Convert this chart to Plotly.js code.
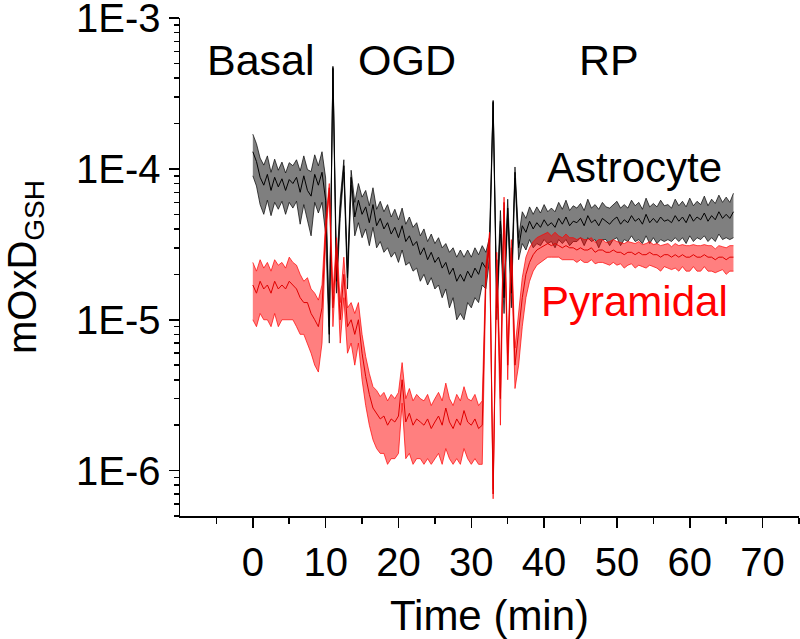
<!DOCTYPE html>
<html>
<head>
<meta charset="utf-8">
<script src="https://cdn.plot.ly/plotly-3.0.1.min.js"></script>
<style>html,body{margin:0;padding:0;background:#fff;}#chart{width:800px;height:639px;}</style>
</head>
<body>
<div id="chart"></div>
<script>
// Time (min)
const time = [
0,0.5,1,1.5,2,2.5,3,3.5,4,4.5,
5,5.5,6,6.5,7,7.5,8,8.5,9,9.5,
10,10.5,11,11.5,12,12.5,13,13.5,14,14.5,
15,15.5,16,16.5,17,17.5,18,18.5,19,19.5,
20,20.5,21,21.5,22,22.5,23,23.5,24,24.5,
25,25.5,26,26.5,27,27.5,28,28.5,29,29.5,
30,30.5,31,31.5,32,32.5,33,33.5,34,34.5,
35,35.5,36,36.5,37,37.5,38,38.5,39,39.5,
40,40.5,41,41.5,42,42.5,43,43.5,44,44.5,
45,45.5,46,46.5,47,47.5,48,48.5,49,49.5,
50,50.5,51,51.5,52,52.5,53,53.5,54,54.5,
55,55.5,56,56.5,57,57.5,58,58.5,59,59.5,
60,60.5,61,61.5,62,62.5,63,63.5,64,64.5,
65,65.5,66];

// Astrocyte mOxD_GSH, mean and SEM (units of 1e-6)
const astroMean = [
130,112,88,78,92,72,88,76,86,72,
85,80,88,70,90,72,66,92,78,95,
62,8,470,18,55,105,19,88,48,62,
50,56,44,58,42,47,40,44,37,41,
35,42,33,36,31,33,27,30,25,28,
24,26,22,24,20,22,18,20,18,21,
19,22,20,24,22,30,280,12,45,14,
55,15,95,30,42,38,45,40,44,41,
46,42,44,41,47,43,48,42,45,44,
47,42,49,44,46,42,47,45,43,46,
48,43,46,44,49,45,47,43,50,44,
47,44,48,45,46,44,49,45,48,44,
50,45,48,46,51,45,49,46,52,47,
50,47,52];
const astroSem = [
40,35,30,28,30,23,28,22,25,22,
25,25,27,27,32,27,30,32,27,35,
25,1,10,3,8,10,3,10,12,18,
15,16,13,17,12,14,12,14,11,13,
11,13,10,12,10,11,9,10,8,9,
8,9,8,8,8,8,8,9,8,8,
7,8,7,7,6,5,5,2,8,3,
8,3,8,5,10,9,11,10,12,10,
12,10,11,11,13,11,14,11,12,11,
12,11,14,11,12,12,13,11,12,12,
13,12,12,11,13,12,13,11,14,12,
12,12,14,12,12,11,14,12,13,12,
14,12,13,12,15,12,14,13,15,13,
15,13,17];

// Pyramidal mOxD_GSH, mean and SEM (units of 1e-6)
const pyrMean = [
17,15,18,16,17,15,18,16,17,16,
18,17,16,14,13,13,11,10,9,12,
40,75,12,30,10,20,9,10,8,10,
6,4.2,3.2,2.6,2.4,2.2,2.3,2.0,2.2,2.1,
2.3,4.0,2.1,2.4,2.0,2.2,2.1,2.0,2.2,1.9,
2.1,2.3,2.0,2.6,2.1,1.9,2.2,2.0,2.5,2.1,
2.0,2.2,1.9,2.0,20,35,0.7,25,3.0,60,
5,30,5,8,14,20,24,27,29,30,
31,32,31,32,31,30,31,30,30,29,
30,29,29,30,28,29,29,28,28,29,
28,28,27,28,28,27,28,27,27,28,
27,27,26,27,27,26,27,26,27,26,
26,27,26,26,27,26,26,25,26,26,
25,26,26];
const pyrSem = [
7,6,7,6,7,6,7,7,7,6,
8,7,7,6,5,6,5,5,4.5,5,
5,5,3,5,3,6,3,3,3,3,
2,1.5,1.2,1.0,1.0,0.9,1.0,0.9,1.0,0.9,
1.0,1.2,0.9,1.1,0.9,1.0,0.9,0.9,1.0,0.8,
0.9,1.0,0.9,1.2,0.9,0.8,1.0,0.9,1.1,0.9,
0.9,1.0,0.8,0.9,3,3,0.05,3,1,5,
1,4,1.5,3,5,6,6,6,6,6,
6,6,5,6,5,5,6,5,5,5,
5,5,5,5,4.5,5,5,4.5,5,5,
5,4.5,5,5,4.5,5,5,4.5,5,5,
4.5,5,5,4.5,5,4.5,5,5,4.5,5,
5,4.5,5,5,4.5,5,5,4.5,5,4.5,
5,5,5];

const UNIT = 1e-6;
const yTickVals = [1e-6, 1e-5, 1e-4, 1e-3];
const yTickText = ['1E-6', '1E-5', '1E-4', '1E-3'];
const xTickVals = [0, 10, 20, 30, 40, 50, 60, 70];
const xMinorVals = [-5, 5, 15, 25, 35, 45, 55, 65, 75];
const yMinorVals = [];
for (let d = -7; d <= -4; d++) for (let k = 2; k <= 9; k++) yMinorVals.push(k * Math.pow(10, d));

function bandTraces(mean, sem, lineCol, fillCol, meanCol) {
  const m = mean.map(v => v * UNIT);
  const lo = mean.map((v, i) => (v - sem[i]) * UNIT);
  const hi = mean.map((v, i) => (v + sem[i]) * UNIT);
  return [
    {x: time, y: lo, type: 'scatter', mode: 'lines', line: {color: lineCol, width: 0.7}, hoverinfo: 'skip'},
    {x: time, y: hi, type: 'scatter', mode: 'lines', line: {color: lineCol, width: 0.7}, fill: 'tonexty', fillcolor: fillCol, hoverinfo: 'skip'},
    {x: time, y: m, type: 'scatter', mode: 'lines', line: {color: meanCol, width: 1}}
  ];
}

const data = [].concat(
  bandTraces(astroMean, astroSem, '#000000', 'rgba(0,0,0,0.5)', '#000000'),
  bandTraces(pyrMean, pyrSem, '#ff0000', 'rgba(255,0,0,0.5)', '#e00000')
);

const F = 'Liberation Sans, Arial, sans-serif';
function ann(text, x, y, size, color) {
  return {text: text, xref: 'paper', yref: 'paper', x: x, y: y, xanchor: 'center', yanchor: 'middle',
          showarrow: false, font: {family: F, size: size, color: color}};
}
const layout = {
  width: 800, height: 639,
  margin: {l: 180, r: 1, t: 18, b: 123},
  paper_bgcolor: '#fff', plot_bgcolor: '#fff',
  showlegend: false,
  font: {family: F, color: '#000'},
  xaxis: {
    range: [-10, 75], tickmode: 'array', tickvals: xTickVals,
    showline: true, linecolor: '#000', linewidth: 1.5,
    ticks: 'outside', ticklen: 10, tickwidth: 1.5, tickcolor: '#000',
    minor: {tickmode: 'array', tickvals: xMinorVals, ticks: 'outside', ticklen: 6, tickwidth: 1.5, tickcolor: '#000', showgrid: false},
    showgrid: false, zeroline: false,
    tickfont: {family: F, size: 40, color: '#000'},
    title: {text: 'Time (min)', font: {family: F, size: 42, color: '#000'}, standoff: 30}
  },
  yaxis: {
    type: 'log', range: [Math.log10(5e-7), -2.9995],
    tickmode: 'array', tickvals: yTickVals, ticktext: yTickText,
    showline: true, linecolor: '#000', linewidth: 1.5,
    ticks: 'outside', ticklen: 10, tickwidth: 1.5, tickcolor: '#000',
    minor: {tickmode: 'array', tickvals: yMinorVals, ticks: 'outside', ticklen: 5, tickwidth: 1.5, tickcolor: '#000', showgrid: false},
    showgrid: false, zeroline: false,
    ticklabeloverflow: 'allow',
    tickfont: {family: F, size: 40, color: '#000'},
    title: {text: 'mOxD<sub>GSH</sub>', font: {family: F, size: 40, color: '#000'}, standoff: 44}
  },
  annotations: [
    ann('Basal', 0.1309, 0.9156, 43, '#000'),
    ann('OGD', 0.3667, 0.9156, 43, '#000'),
    ann('RP', 0.693, 0.9156, 43, '#000'),
    ann('Astrocyte', 0.735, 0.7005, 42, '#000'),
    ann('Pyramidal', 0.735, 0.431, 42, '#ff0000')
  ]
};

Plotly.newPlot('chart', data, layout, {staticPlot: true, displayModeBar: false});
</script>
</body>
</html>
